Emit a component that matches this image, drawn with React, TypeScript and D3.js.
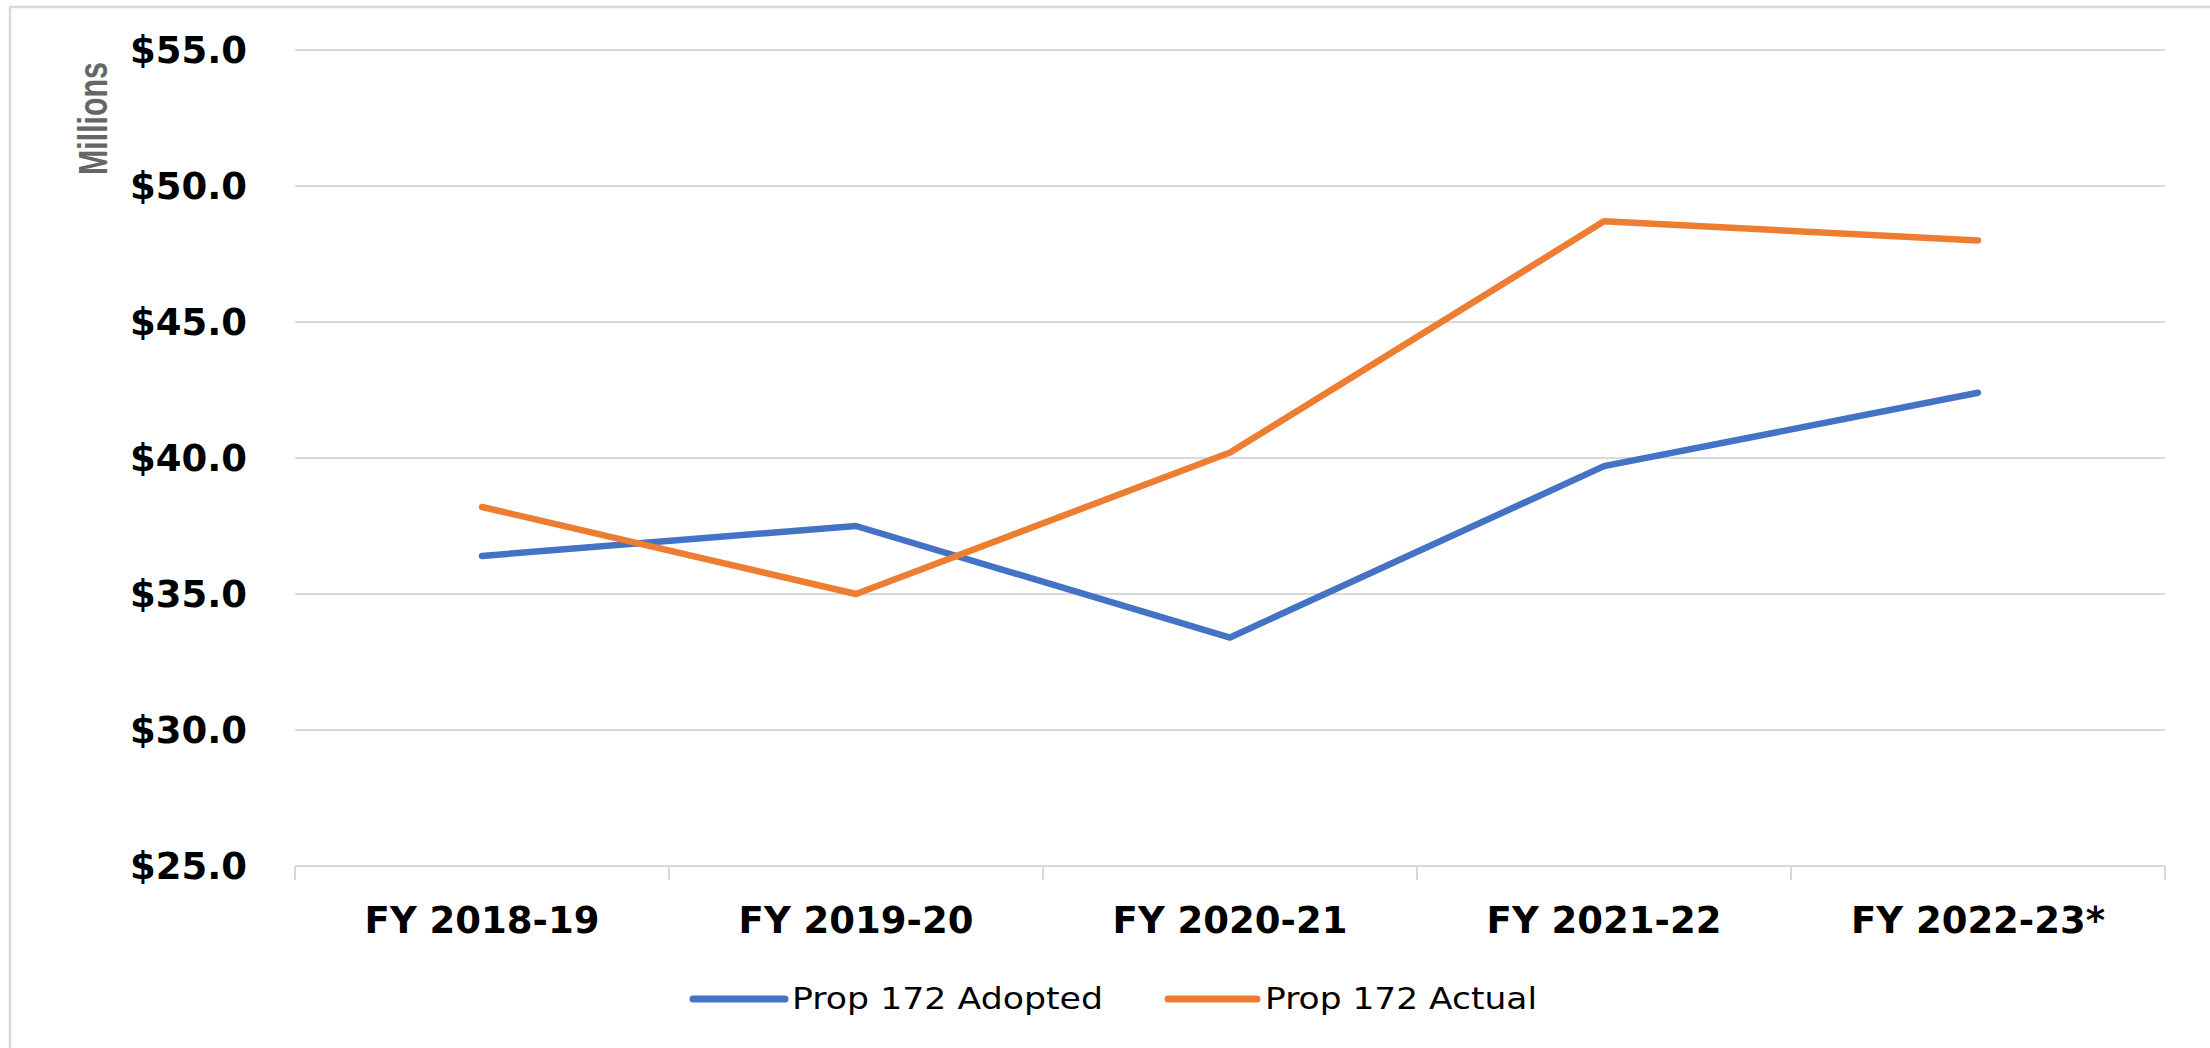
import React from "react";
import * as d3 from "d3";

const categories = ["FY 2018-19", "FY 2019-20", "FY 2020-21", "FY 2021-22", "FY 2022-23*"];
const adopted = [36.4, 37.5, 33.4, 39.7, 42.4];
const actual = [38.2, 35.0, 40.2, 48.7, 48.0];
const yTicks = [25, 30, 35, 40, 45, 50, 55];
const seriesNames = ["Prop 172 Adopted", "Prop 172 Actual"];
const seriesColors = ["#4472C4", "#ED7D31"];

const W = 2210;
const H = 1048;
const left = 295;
const right = 2165;
const top = 50;
const bottom = 866;

export default function App() {
  const x = d3.scaleBand<string>().domain(categories).range([left, right]).paddingInner(0).paddingOuter(0);
  const y = d3.scaleLinear().domain([25, 55]).range([bottom, top]);
  const cx = (c: string) => (x(c) as number) + x.bandwidth() / 2;

  const line = d3
    .line<number>()
    .x((_, i) => cx(categories[i]))
    .y((d) => y(d));

  const series = [adopted, actual];
  const boundaries = [...categories.map((c) => x(c) as number), right];

  const legendItems = [
    { x1: 693, x2: 785, tx: 792, len: 311 },
    { x1: 1168, x2: 1257, tx: 1265, len: 272 },
  ];

  return (
    <svg
      width={W}
      height={H}
      style={{ position: "absolute", left: 0, top: 0, background: "#fff" }}
    >
      <rect x={0} y={0} width={W} height={H} fill="#fff" />
      <rect x={10} y={7} width={W + 20} height={H + 20} fill="none" stroke="#d9d9d9" strokeWidth={2.5} />

      {yTicks.filter((t) => t !== 25).map((t) => (
        <line key={t} x1={left} x2={right} y1={y(t)} y2={y(t)} stroke="#d9d9d9" strokeWidth={2} />
      ))}
      <line x1={left} x2={right} y1={bottom} y2={bottom} stroke="#d9d9d9" strokeWidth={2} />
      {boundaries.map((b, i) => (
        <line key={i} x1={b} x2={b} y1={bottom} y2={bottom + 14} stroke="#d9d9d9" strokeWidth={2} />
      ))}

      {yTicks.map((t) => (
        <text
          key={t}
          x={247}
          y={y(t) + 13}
          textAnchor="end"
          fontFamily="'DejaVu Sans', sans-serif"
          fontWeight="bold"
          fontSize={37}
          fill="#000"
        >
          {"$" + t.toFixed(1)}
        </text>
      ))}

      {categories.map((c) => (
        <text
          key={c}
          x={cx(c)}
          y={933}
          textAnchor="middle"
          fontFamily="'DejaVu Sans', sans-serif"
          fontWeight="bold"
          fontSize={37}
          fill="#000"
        >
          {c}
        </text>
      ))}

      <text
        transform="translate(107,118.5) rotate(-90)"
        textAnchor="middle"
        fontFamily="'Liberation Sans Narrow', 'Arial Narrow', 'Liberation Sans', sans-serif"
        fontWeight="bold"
        fontSize={40}
        fill="#666"
        textLength={113}
        lengthAdjust="spacingAndGlyphs"
      >
        Millions
      </text>

      {series.map((s, i) => (
        <path
          key={i}
          d={line(s) as string}
          fill="none"
          stroke={seriesColors[i]}
          strokeWidth={6.5}
          strokeLinecap="round"
          strokeLinejoin="round"
        />
      ))}

      {legendItems.map((l, i) => (
        <g key={i}>
          <line x1={l.x1} x2={l.x2} y1={999} y2={999} stroke={seriesColors[i]} strokeWidth={7} strokeLinecap="round" />
          <text
            x={l.tx}
            y={1009}
            fontFamily="'DejaVu Sans', sans-serif"
            fontSize={30}
            fill="#000"
            textLength={l.len}
            lengthAdjust="spacingAndGlyphs"
          >
            {seriesNames[i]}
          </text>
        </g>
      ))}
    </svg>
  );
}
